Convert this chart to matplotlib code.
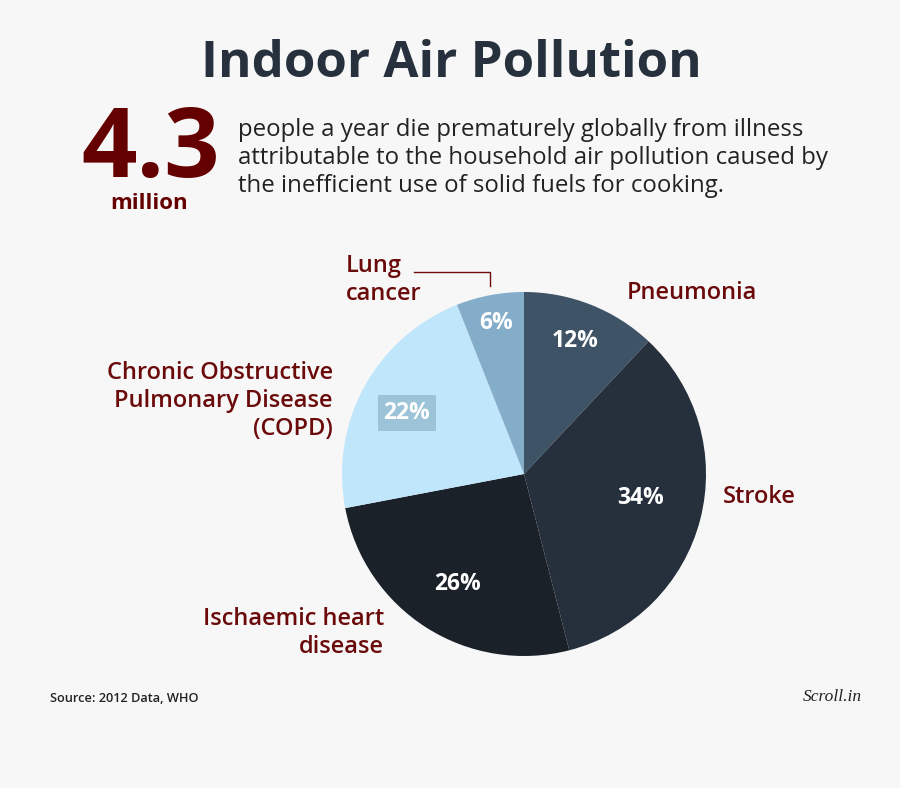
import matplotlib
matplotlib.use("Agg")
import matplotlib.pyplot as plt

plt.rcParams['font.family'] = ['Open Sans', 'DejaVu Sans']

categories = ["Pneumonia", "Stroke", "Ischaemic heart\ndisease",
              "Chronic Obstructive\nPulmonary Disease\n(COPD)", "Lung\ncancer"]
values = [12, 34, 26, 22, 6]
pct_labels = ["12%", "34%", "26%", "22%", "6%"]
colors = ["#3e5366", "#25303c", "#1b2129", "#c0e6fb", "#83adc9"]

BG = "#f7f7f7"
RED = "#6b0a0a"
NAVY = "#26313d"

fig = plt.figure(figsize=(9, 7.88), dpi=100, facecolor=BG)

# Pie axes: center (524, 474), radius 182 px
cx, cy, r = 524, 474, 182
pax = fig.add_axes([(cx - r) / 900, (788 - cy - r) / 788, 2 * r / 900, 2 * r / 788])
wedges, _ = pax.pie(values, colors=colors, startangle=90, counterclock=False,
                    radius=1, wedgeprops=dict(linewidth=0))
pax.set_xlim(-1, 1)
pax.set_ylim(-1, 1)
pax.set_aspect("equal")
pax.axis("off")

ov = fig.add_axes([0, 0, 1, 1])
ov.set_xlim(0, 900)
ov.set_ylim(788, 0)
ov.axis("off")
ov.patch.set_alpha(0)
ov.set_zorder(5)

# Title
ov.text(451, 64, "Indoor Air Pollution", ha="center", va="center", fontsize=36.7,
        fontweight="bold", color=NAVY)
ov.text(151, 151, "4.3", ha="center", va="center", fontsize=70, fontweight="bold", color="#650000")
ov.text(149, 203, "million", ha="center", va="center", fontsize=16, fontweight="bold", color="#650000")
ov.text(238, 158, "people a year die prematurely globally from illness\n"
        "attributable to the household air pollution caused by\n"
        "the inefficient use of solid fuels for cooking.",
        ha="left", va="center", fontsize=17.3, color="#222222", linespacing=1.22)

# Percent labels inside pie (pixel positions)
lab_pos = [(575, 341), (641, 498), (458, 584), (407, 413), (496, 323)]
for (x, y), t, i in zip(lab_pos, pct_labels, range(5)):
    if i == 3:
        ov.text(x, y, t, ha="center", va="center", fontsize=16.5, fontweight="bold", color="white",
                bbox=dict(boxstyle="square,pad=0.25", fc="#9cc3d8", ec="none"))
    else:
        ov.text(x, y, t, ha="center", va="center", fontsize=16.5, fontweight="bold", color="white")

# Category labels
lkw = dict(fontsize=17, fontweight="semibold", color=RED, linespacing=1.2)
ov.text(627, 293, categories[0], ha="left", va="center", **lkw)
ov.text(723, 497, categories[1], ha="left", va="center", **lkw)
ov.text(384, 633, categories[2], ha="right", va="center", **lkw)
ov.text(333, 401, categories[3], ha="right", va="center", **lkw)
ov.text(346, 280, categories[4], ha="left", va="center", **lkw)
ov.plot([414, 490, 490], [272, 272, 286], color=RED, lw=1)

# Footer
ov.text(50, 698, "Source: 2012 Data, WHO", ha="left", va="center", fontsize=9.2,
        fontweight="semibold", color="#222222")
ov.text(862, 697, "Scroll.in", ha="right", va="center", fontsize=12.5, fontstyle="italic",
        family=["Liberation Serif", "DejaVu Serif"], color="#222222")

fig.savefig("out.png", dpi=100, facecolor=BG)
